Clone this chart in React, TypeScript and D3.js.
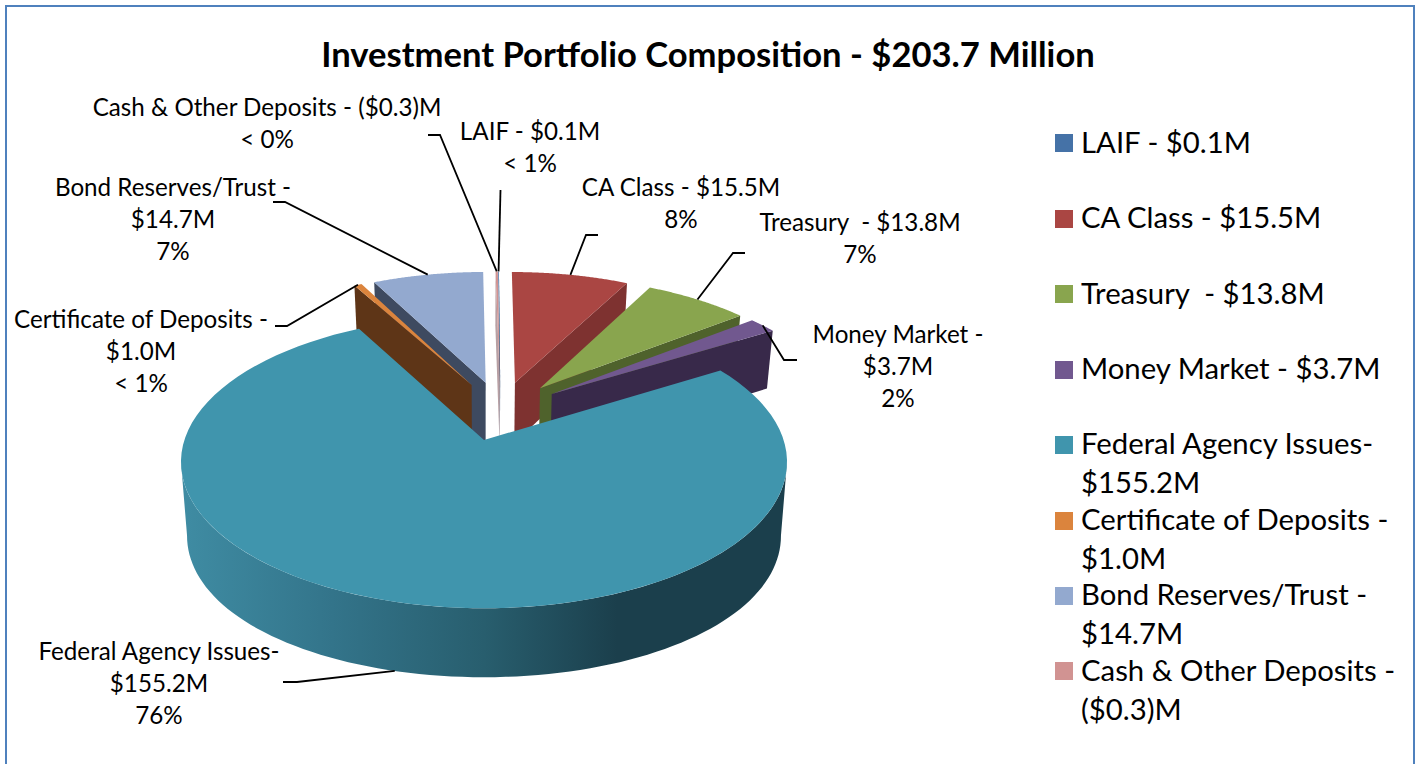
import React from "react";
import * as d3 from "d3";

const categories = ["LAIF", "CA Class", "Treasury ", "Money Market", "Federal Agency Issues", "Certificate of Deposits", "Bond Reserves/Trust", "Cash & Other Deposits"];
const amounts = [0.1, 15.5, 13.8, 3.7, 155.2, 1.0, 14.7, 0.3];
const topColors = ["#4572A7", "#AA4643", "#89A54E", "#71588F", "#4095AD", "#DB843D", "#93A9CF", "#D19392"];
const wallColors = ["#2C4A6E", "#7E3230", "#4F622C", "#38294A", "#2A6070", "#5E3517", "#3E4A60", "#B8A0A4"];
const legendLabels = [
  ["LAIF - $0.1M"],
  ["CA Class - $15.5M"],
  ["Treasury  - $13.8M"],
  ["Money Market - $3.7M"],
  ["Federal Agency Issues-", "$155.2M"],
  ["Certificate of Deposits -", "$1.0M"],
  ["Bond Reserves/Trust -", "$14.7M"],
  ["Cash & Other Deposits -", "($0.3)M"],
];
const dataLabels = [
  ["LAIF - $0.1M", "< 1%"],
  ["CA Class - $15.5M", "8%"],
  ["Treasury  - $13.8M", "7%"],
  ["Money Market -", "$3.7M", "2%"],
  ["Federal Agency Issues-", "$155.2M", "76%"],
  ["Certificate of Deposits -", "$1.0M", "< 1%"],
  ["Bond Reserves/Trust -", "$14.7M", "7%"],
  ["Cash & Other Deposits - ($0.3)M", "< 0%"],
];
const title = "Investment Portfolio Composition - $203.7 Million";

// layout: label centre/first baseline, leader elbow + end
const labelAt: [number, number][] = [[530, 140], [681, 196], [860, 231], [898, 343], [159, 660], [141, 328], [173, 196], [267, 116]];
const elbows: [number, number][][] = [
  [[500.5, 190]],
  [[586, 235], [598, 235]],
  [[733, 253], [745, 253]],
  [[784, 360], [797, 360]],
  [[297, 682], [283, 682]],
  [[287, 326], [275, 326]],
  [[285, 202], [273, 202]],
  [[440, 135], [428, 135]],
];
const FED = 4;
const CX = 484, CY = 440, B = 299.6, A = 143, K = 0.15, EXPLODE = 0.22;
const paintOrder = [0, 7, 6, 5, 1, 2, 3];
const swatchRows = [143, 219, 294, 370, 445, 521, 596, 671];
const legendBaselines = [153, 228, 304, 379, 454, 530, 605, 681];

const LABEL_FONT = 24.2;
const LEGEND_FONT = 29.3;
const FONT = "Lato, 'Open Sans', sans-serif";

const arcs = d3.pie<number>().sort(null).value((d) => d)(amounts);
const dir = (t: number): [number, number] => [Math.sin(t), Math.cos(t)];
const mid = (i: number) => (arcs[i].startAngle + arcs[i].endAngle) / 2;
const fedDir = dir(mid(FED));

function offset(i: number): [number, number] {
  if (i === FED) return [0, 0];
  const d = dir(mid(i));
  return [EXPLODE * (d[0] - fedDir[0]), EXPLODE * (d[1] - fedDir[1])];
}
// perspective projection of a point of the pie plane; z=1 is the pie's underside
function project(X: number, Y: number, z = 0): [number, number] {
  const w = 1 + K * Y;
  const depth = 63 - 6 * Y + (Y < 0.6 ? 10 * X * X : 0);
  const xs = 1 - 0.02 * z;
  return [CX + (B * X * xs) / w, CY - (A * Y) / w + depth * z];
}
function rimPoint(i: number, t: number, z = 0): [number, number] {
  const o = offset(i);
  const d = dir(t);
  return project(o[0] + d[0], o[1] + d[1], z);
}
function apex(i: number, z = 0): [number, number] {
  const o = offset(i);
  return project(o[0], o[1], z);
}
const line = d3.line<[number, number]>().x((d) => d[0]).y((d) => d[1]);
const closed = (pts: [number, number][]) => line(pts) + "Z";
function rim(i: number, a0: number, a1: number, z = 0): [number, number][] {
  return d3.range(0, 91).map((k) => rimPoint(i, a0 + ((a1 - a0) * k) / 90, z));
}
function topPath(i: number) {
  return closed([apex(i), ...rim(i, arcs[i].startAngle, arcs[i].endAngle)]);
}
function cutPath(i: number, t: number) {
  return closed([apex(i), rimPoint(i, t), rimPoint(i, t, 1), apex(i, 1)]);
}
function outerWall(i: number, a0: number, a1: number) {
  return closed([...rim(i, a0, a1), ...rim(i, a0, a1, 1).reverse()]);
}

// the wall runs between the points where the rim is widest on screen
const tangent = Math.asin(K);
const fedWall = outerWall(FED, Math.PI / 2 + tangent, (3 * Math.PI) / 2 - tangent);

export default function App() {
  return (
    <svg width={1419} height={764} style={{ position: "fixed", left: 0, top: 0, display: "block", background: "#fff" }} fontFamily={FONT}>
      <defs>
        <linearGradient id="fedSide" gradientUnits="userSpaceOnUse" x1={181} x2={787} y1={0} y2={0}>
          <stop offset="0" stopColor="#3F8CA3" />
          <stop offset="0.25" stopColor="#33748A" />
          <stop offset="0.5" stopColor="#285E6E" />
          <stop offset="0.72" stopColor="#1B3F4C" />
          <stop offset="1" stopColor="#1B3F4C" />
        </linearGradient>
      </defs>
      <rect x={6} y={6} width={1408} height={790} fill="#fff" stroke="#4F81BD" strokeWidth={2} />
      <text x={708} y={67} textAnchor="middle" fontSize={34.6} fontWeight={700} fill="#000">{title}</text>

      {paintOrder.map((i) => {
        const leftSide = mid(i) > Math.PI;
        const cutAngle = leftSide ? arcs[i].startAngle : arcs[i].endAngle;
        return (
          <g key={categories[i]}>
            <path d={cutPath(i, cutAngle)} fill={wallColors[i]} />
            <path d={topPath(i)} fill={topColors[i]} />
          </g>
        );
      })}
      <path d={fedWall} fill="url(#fedSide)" />
      <path d={topPath(FED)} fill={topColors[FED]} />

      {elbows.map((pts, i) => {
        const start = rimPoint(i, mid(i), i === FED ? 1 : 0);
        return <path key={i} d={line([start, ...pts])!} fill="none" stroke="#000" strokeWidth={1.8} />;
      })}

      {dataLabels.map((lines, i) => (
        <text key={i} textAnchor="middle" fontSize={LABEL_FONT} fill="#000" style={{ whiteSpace: "pre" }}>
          {lines.map((l, j) => (
            <tspan key={j} x={labelAt[i][0]} y={labelAt[i][1] + j * 32}>{l}</tspan>
          ))}
        </text>
      ))}

      {legendLabels.map((lines, i) => (
        <g key={i}>
          <rect x={1055} y={swatchRows[i] - 9} width={18} height={18} fill={topColors[i]} />
          <text fontSize={LEGEND_FONT} fill="#000" style={{ whiteSpace: "pre" }}>
            {lines.map((l, j) => (
              <tspan key={j} x={1081} y={legendBaselines[i] + j * 39}>{l}</tspan>
            ))}
          </text>
        </g>
      ))}
    </svg>
  );
}
